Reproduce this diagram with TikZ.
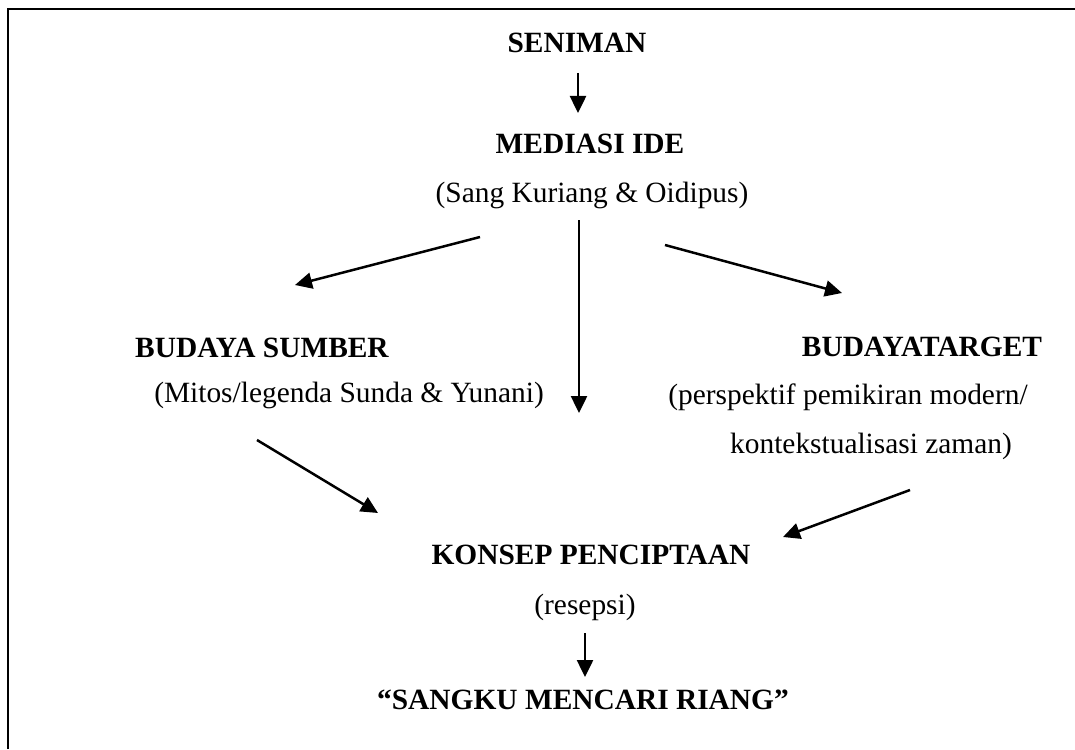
\documentclass[tikz,border=0pt]{standalone}
\usepackage{fontspec}
\setmainfont{Liberation Serif}
\usetikzlibrary{arrows.meta}
\begin{document}
\begin{tikzpicture}[x=0.5pt,y=-0.5pt,
  lbl/.style={inner sep=0pt,font=\fontsize{14.7}{17}\selectfont},
  head/.style={lbl,font=\fontsize{14.7}{17}\selectfont\bfseries},
  conn/.style={line width=1.25pt,-{Triangle[length=8.5pt,width=8pt]}}]
\useasboundingbox (0,0) rectangle (1075,749);
\draw[line width=1.2pt] (8,749) -- (8,9) -- (1075,9);
\node[head] (sen) at (577,43) {SENIMAN};
\node[head] (med) at (590,144) {MEDIASI IDE};
\node[lbl] (sk) at (592,195) {(Sang Kuriang \& Oidipus)};
\node[head] (bs) at (262,348) {BUDAYA SUMBER};
\node[lbl] (mit) at (349,395) {(Mitos/legenda Sunda \& Yunani)};
\node[head] (bt) at (922,347) {BUDAYATARGET};
\node[lbl] (per) at (848,397) {(perspektif pemikiran modern/};
\node[lbl] (kon) at (871,446) {kontekstualisasi zaman)};
\node[head] (kp) at (591,555) {KONSEP PENCIPTAAN};
\node[lbl] (res) at (585,607) {(resepsi)};
\node[head] (smr) at (583,700) {``SANGKU MENCARI RIANG''};
\coordinate (a1s) at (578,73);  \coordinate (a1e) at (578,113);
\coordinate (l1s) at (480,237); \coordinate (l1e) at (295,285);
\coordinate (c1s) at (579,220); \coordinate (c1e) at (579,413);
\coordinate (r1s) at (665,245); \coordinate (r1e) at (842,293);
\coordinate (l2s) at (257,440); \coordinate (l2e) at (378,513);
\coordinate (r2s) at (910,490); \coordinate (r2e) at (783,537);
\coordinate (a2s) at (585,633); \coordinate (a2e) at (585,677);
\draw[conn] (a1s) -- (a1e);
\draw[conn] (l1s) -- (l1e);
\draw[conn] (c1s) -- (c1e);
\draw[conn] (r1s) -- (r1e);
\draw[conn] (l2s) -- (l2e);
\draw[conn] (r2s) -- (r2e);
\draw[conn] (a2s) -- (a2e);
\end{tikzpicture}
\end{document}
